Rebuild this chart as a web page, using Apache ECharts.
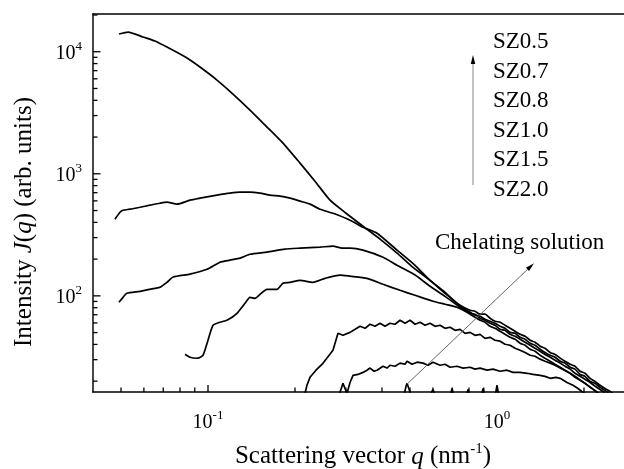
<!DOCTYPE html>
<html>
<head>
<meta charset="utf-8">
<script src="https://cdn.jsdelivr.net/npm/echarts@6/dist/echarts.min.js"></script>
<style>html,body{margin:0;padding:0;background:#fff;}#c{width:624px;height:469px;}</style>
</head>
<body>
<div id="c"></div>
<script>
// ---- data (q in nm^-1, intensity in arb. units) ----
const seriesNames = ['SZ0.5','SZ0.7','SZ0.8','SZ1.0','SZ1.5','SZ2.0','Chelating solution'];

const qSZ05 = [0.0492,0.0529,0.0596,0.0655,0.0721,0.0846,0.0938,0.1074,0.1220,0.1397,0.1588,0.1817,0.2082,0.2345,0.2644,0.3004,0.3438,0.3938,0.4508,0.5122,0.5867,0.6611,0.7452,0.8070,0.8392,0.8739,0.9089,0.9464,0.9842,1.025,1.066,1.110,1.155,1.202,1.251,1.302,1.354,1.410,1.466,1.527,1.588,1.654,1.719,1.791,1.862,1.939,2.016,2.100,2.184,2.274,2.365,2.463,2.561];
const iSZ05 = [13970,14500,13200,12240,10920,8880,7491,5860,4500,3327,2461,1784,1223,870,608,475,372,291.5,224,171,134,104.9,83.8,76.2,74.8,70.7,70.7,65.5,61.9,60.8,57.4,54.2,51.2,48.4,46.6,43.3,41.7,38.7,37.2,34.4,33.1,30.9,29.1,27.5,26.5,24.1,23.2,21.1,19.9,18.5,17.4,16.5,15.3];

const qSZ07 = [0.04766,0.0496,0.0508,0.05371,0.05816,0.06298,0.0682,0.0721,0.0781,0.08663,0.09382,0.1074,0.1191,0.129,0.1397,0.1513,0.1639,0.1775,0.1922,0.2082,0.2254,0.2441,0.2707,0.3101,0.3438,0.3845,0.4508,0.5205,0.5867,0.6611,0.7452,0.807,0.8392,0.8739,0.9089,0.9464,0.9842,1.025,1.066,1.11,1.155,1.202,1.251,1.302,1.354,1.41,1.466,1.527,1.588,1.654,1.719,1.791,1.862,1.939,2.016,2.1,2.184,2.274,2.365,2.463];
const iSZ07 = [425,484,503,513,532,553,574,585,564,608,631,668,694,707,707,694,668,656,631,597,564,513,475,417,365,326,237,178,134,106.9,82.2,73.4,69.4,68.1,64.3,61.9,59.6,56.3,54.2,50.2,49.3,45.7,44.1,40.9,39.4,36.5,34.4,32.6,31.4,29.1,28.1,26.0,25.1,22.7,21.9,19.9,19.2,17.8,16.8,15.6];

const qSZ08 = [0.0492,0.0508,0.0524,0.05816,0.0655,0.0682,0.0721,0.0757,0.0866,0.0992,0.11,0.1191,0.129,0.1397,0.1599,0.1846,0.2082,0.2441,0.2707,0.2909,0.3101,0.3438,0.4033,0.4508,0.5205,0.5867,0.6611,0.7452,0.807,0.8392,0.8739,0.9089,0.9464,0.9842,1.025,1.066,1.11,1.155,1.202,1.251,1.302,1.354,1.41,1.466,1.527,1.588,1.654,1.719,1.791,1.862,1.939,2.016,2.1,2.184,2.274,2.365];
const iSZ08 = [88.6,97.2,104.9,108.9,115.3,117.5,129,142.5,150.8,165,188.7,196,203.6,219,228,241.5,246,250.7,255.5,246,246,237,207,178,148,119.7,99.1,80.7,72.0,70.7,65.5,63.1,59.6,57.4,53.2,52.2,48.4,46.6,44.1,41.7,39.4,37.2,35.1,33.1,31.4,29.7,28.1,26.5,25.1,23.2,21.9,20.7,19.5,18.2,17.1,16.0];

const qSZ10 = [0.0833,0.0866,0.0916,0.0961,0.1,0.1041,0.11,0.1163,0.126,0.1343,0.1397,0.1454,0.1513,0.1599,0.1733,0.1817,0.1922,0.2082,0.2308,0.2541,0.2863,0.3101,0.3549,0.4033,0.4619,0.5205,0.6005,0.6611,0.7272,0.7753,0.807,0.8392,0.8739,0.9089,0.9464,0.9842,1.025,1.066,1.11,1.155,1.202,1.251,1.302,1.354,1.41,1.466,1.527,1.588,1.654,1.719,1.791,1.862,1.939,2.016,2.1,2.184,2.274];
const iSZ10 = [33.2,31.4,30.8,32.6,43.3,57.4,60.8,63.1,72.0,86.9,97.2,95.4,102.9,113.1,113.1,126.7,129,134,129,139.2,148,145,139.2,124.3,111,101,90.3,85.4,80.7,74.8,70.7,66.8,63.1,60.8,56.3,54.2,51.2,48.4,45.7,44.1,40.9,39.4,36.5,35.1,32.6,30.8,29.1,27.5,26.0,24.6,23.2,21.5,20.3,19.2,17.8,16.8,15.6];

const qSZ15 = [0.2166,0.22,0.2254,0.2364,0.2499,0.2707,0.2817,0.2931,0.3101,0.3229,0.3358,0.3494,0.3637,0.3784,0.3938,0.4098,0.4265,0.4438,0.4619,0.4807,0.5002,0.5205,0.5417,0.5637,0.5867,0.6105,0.6353,0.6611,0.6881,0.716,0.7452,0.7753,0.807,0.8392,0.8739,0.9089,0.9464,0.9842,1.025,1.066,1.11,1.155,1.202,1.251,1.302,1.354,1.41,1.466,1.527,1.588,1.654,1.791,1.907,2.016,2.134,2.236];
const iSZ15 = [15.9,18.5,21.5,24.6,28.0,35.8,49.3,47.5,50.2,53.2,56.3,54.2,58.5,56.3,59.6,56.3,59.6,58.5,63.1,59.6,63.1,58.5,60.8,57.4,59.6,56.3,57.4,54.2,55.3,52.2,53.2,49.3,50.2,47.5,48.4,44.9,45.7,43.3,42.5,40.1,39.4,37.2,35.8,34.4,32.6,32.0,30.3,29.1,28.1,27.0,25.6,23.2,21.1,19.2,17.4,15.9];

const qSZ20 = [0.2817,0.2863,0.2931,0.2979,0.3027,0.3101,0.3175,0.3304,0.3438,0.3549,0.3637,0.3753,0.3845,0.4033,0.4163,0.4265,0.4438,0.4619,0.4807,0.4883,0.5082,0.5289,0.5546,0.5774,0.6005,0.6353,0.6611,0.6881,0.7272,0.7633,0.807,0.8392,0.8739,0.9239,0.9687,1.025,1.083,1.136,1.202,1.271,1.333,1.41,1.466,1.527,1.6,1.654,1.747,1.832,1.907,1.985,2.066];
const iSZ20 = [15.3,16.2,19.2,17.4,15.9,19.5,22.3,22.7,23.6,24.6,25.6,24.1,24.6,26.5,25.6,27.0,26.5,28.1,27.5,29.1,27.5,28.6,28.1,27.0,28.6,27.0,27.5,26.0,26.5,25.6,26.0,25.1,25.6,24.6,25.1,24.1,24.6,23.6,23.6,23.2,22.7,22.3,21.9,21.1,21.5,21.1,19.5,18.5,17.4,16.2,15.3];

const qChel = [0.4500,0.4619,0.4768,0.4845,0.4883,0.4969,0.5049,0.5867,0.6005,0.6105,0.6881,0.6991,0.7103,0.7814,0.794,0.807,0.8808,0.895,0.9089,0.9842,1.0,1.016,1.202];
const iChel = [14.5,14.5,15.3,18.2,19.2,17.1,14.9,15.3,17.1,15.3,14.9,17.4,14.9,14.9,17.1,14.9,14.9,17.4,14.9,14.9,18.5,14.9,14.5];

// axis ranges and ticks
const X_MIN = 0.04, X_MAX = 2.751;
const Y_MIN = 16.3, Y_MAX = 20380;
const xMajorTicks = [0.1, 1];
const xMinorTicks = [0.05,0.06,0.07,0.08,0.09,0.2,0.3,0.4,0.5,0.6,0.7,0.8,0.9,2];
const yMajorTicks = [100, 1000, 10000];
const yMinorTicks = [20,30,40,50,60,70,80,90,200,300,400,500,600,700,800,900,2000,3000,4000,5000,6000,7000,8000,9000,20000];

// annotation arrows (data coordinates: [from, to])
const arrowSeries = [[0.826, 807], [0.826, 9400]];
const arrowChel = [[0.4883, 18.9], [1.343, 185]];
const legendLabels = ['SZ0.5','SZ0.7','SZ0.8','SZ1.0','SZ1.5','SZ2.0'];

const FONT = '"Liberation Serif","Times New Roman",serif';
const GRID = { left: 93, top: 14, right: 0, bottom: 77 };
const zip = (a, b) => a.map((v, i) => [v, b[i]]);
const curves = [[qSZ05,iSZ05],[qSZ07,iSZ07],[qSZ08,iSZ08],[qSZ10,iSZ10],[qSZ15,iSZ15],[qSZ20,iSZ20],[qChel,iChel]];

function isPow10(v) {
  const e = Math.log10(v);
  return Math.abs(e - Math.round(e)) < 1e-6;
}
function powLabel(v) {
  if (!isPow10(v)) return '';
  const e = Math.round(Math.log10(v));
  return '{b|10}{s|' + e + '}';
}
const labelRich = {
  b: { fontFamily: FONT, fontSize: 20, color: '#000', verticalAlign: 'bottom', lineHeight: 24 },
  s: { fontFamily: FONT, fontSize: 13, color: '#000', verticalAlign: 'top', lineHeight: 13 }
};

const series = curves.map((c, k) => ({
  name: seriesNames[k],
  type: 'line',
  data: zip(c[0], c[1]),
  showSymbol: false,
  symbol: 'none',
  smooth: k < 4 ? 0.2 : false,
  lineStyle: { color: '#000', width: 1.7 },
  clip: true,
  animation: false,
  z: 3
}));

const graphics = legendLabels.map((t, i) => ({
  type: 'text', left: 493, top: 30.5 + 29.6 * i,
  style: { text: t, font: '23px ' + FONT, fill: '#000' }
}));
graphics.push({
  type: 'text', left: 435, top: 231,
  style: { text: 'Chelating solution', font: '23px ' + FONT, fill: '#000' }
});
graphics.push({
  type: 'text', x: 24, y: 222, rotation: Math.PI / 2,
  style: {
    text: 'Intensity {i|J}({i|q}) (arb. units)',
    font: '25px ' + FONT, fill: '#000', align: 'center', verticalAlign: 'middle',
    rich: { i: { fontFamily: FONT, fontSize: 25, fontStyle: 'italic', fill: '#000' } }
  }
});
graphics.push({
  type: 'text', x: 363, y: 456,
  style: {
    text: 'Scattering vector {i|q} (nm{s|-1})',
    font: '25px ' + FONT, fill: '#000', align: 'center', verticalAlign: 'middle',
    rich: {
      i: { fontFamily: FONT, fontSize: 25, fontStyle: 'italic', fill: '#000', verticalAlign: 'bottom', lineHeight: 28 },
      s: { fontFamily: FONT, fontSize: 15, fill: '#000', verticalAlign: 'top', lineHeight: 15 }
    }
  }
});

const chart = echarts.init(document.getElementById('c'), null, { renderer: 'canvas' });
chart.setOption({
  animation: false,
  backgroundColor: '#fff',
  grid: { left: GRID.left, top: GRID.top, right: GRID.right, bottom: GRID.bottom, containLabel: false },
  xAxis: [{
    type: 'log', min: X_MIN, max: X_MAX, position: 'bottom',
    axisLine: { show: true, lineStyle: { color: '#000', width: 1.5 } },
    axisTick: { show: false }, splitLine: { show: false },
    axisLabel: { formatter: powLabel, margin: 17, rich: labelRich, showMinLabel: false, showMaxLabel: false }
  }, {
    type: 'value', position: 'top', min: 0, max: 1,
    axisLine: { show: true, onZero: false, lineStyle: { color: '#000', width: 1.5 } },
    axisTick: { show: false }, axisLabel: { show: false }, splitLine: { show: false }
  }],
  yAxis: {
    type: 'log', min: Y_MIN, max: Y_MAX,
    axisLine: { show: true, lineStyle: { color: '#333', width: 1.8 } },
    axisTick: { show: false }, splitLine: { show: false },
    axisLabel: { formatter: powLabel, margin: 11, rich: labelRich, showMinLabel: false, showMaxLabel: false }
  },
  series: series,
  graphic: graphics
});

const toPx = v => chart.convertToPixel({ xAxisIndex: 0, yAxisIndex: 0 }, v);

// axis ticks (inside), positioned through the chart's log scales
function tickGraphics(values, onX, len) {
  return values.map(v => {
    let shape;
    if (onX) {
      const px = toPx([v, 100])[0];
      const py = toPx([v, Y_MIN])[1];
      shape = { x1: px, y1: py, x2: px, y2: py - len };
    } else {
      const py = toPx([1, v])[1];
      const px = toPx([X_MIN, v])[0];
      shape = { x1: px, y1: py, x2: px + len, y2: py };
    }
    return { type: 'line', shape: shape, style: { stroke: '#000', lineWidth: 1.3 }, silent: true, z: 10 };
  });
}

// arrows: positions derived from data coordinates through the chart's scales
function arrowGraphics(a, lineColor, headLen, headW) {
  const p0 = toPx(a[0]);
  const p1 = toPx(a[1]);
  const dx = p1[0] - p0[0], dy = p1[1] - p0[1];
  const L = Math.sqrt(dx * dx + dy * dy);
  const ux = dx / L, uy = dy / L;
  const bx = p1[0] - ux * headLen, by = p1[1] - uy * headLen;
  const nx = -uy, ny = ux;
  return [
    { type: 'line', shape: { x1: p0[0], y1: p0[1], x2: bx, y2: by }, style: { stroke: lineColor, lineWidth: 1 }, silent: true, z: 10 },
    { type: 'polygon', shape: { points: [[p1[0], p1[1]], [bx + nx * headW / 2, by + ny * headW / 2], [bx - nx * headW / 2, by - ny * headW / 2]] }, style: { fill: '#000' }, silent: true, z: 10 }
  ];
}
const extra = graphics
  .concat(tickGraphics(xMajorTicks, true, 7))
  .concat(tickGraphics(xMinorTicks, true, 4.5))
  .concat(tickGraphics(yMajorTicks, false, 7.5))
  .concat(tickGraphics(yMinorTicks, false, 4.5))
  .concat(arrowGraphics(arrowSeries, '#888', 9, 4.5))
  .concat(arrowGraphics(arrowChel, '#666', 9, 4.5));
chart.setOption({ graphic: extra }, { replaceMerge: ['graphic'] });
</script>
</body>
</html>
